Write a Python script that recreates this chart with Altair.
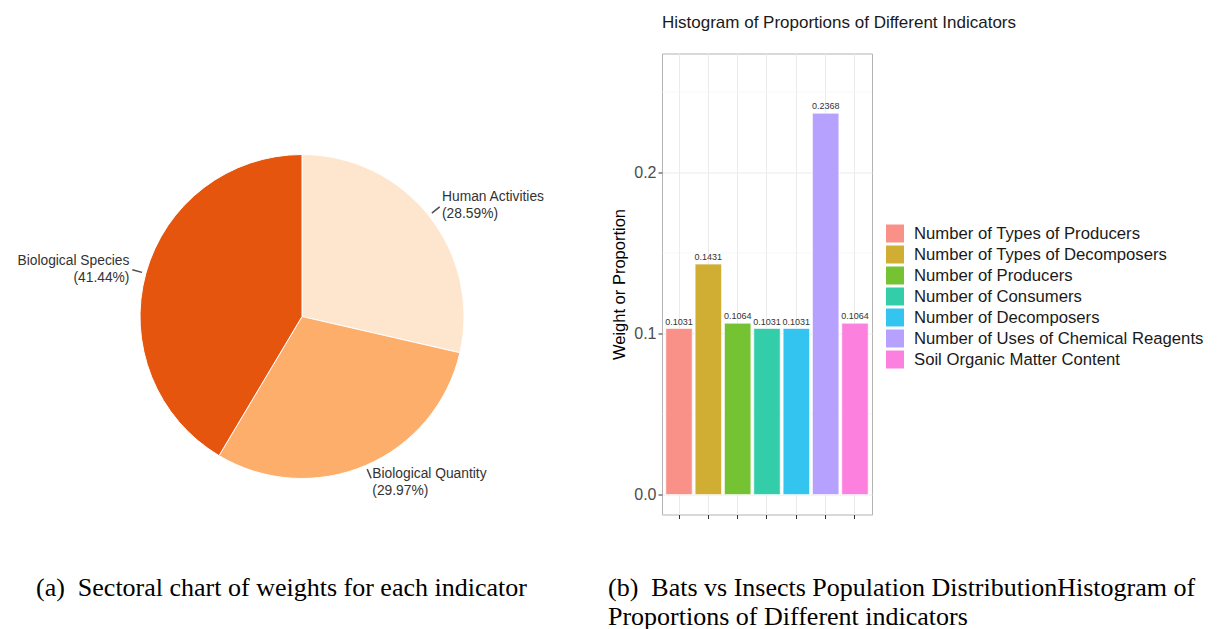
import math
import altair as alt
import pandas as pd

# ---------------- data ----------------
pie_labels = ["Human Activities", "Biological Quantity", "Biological Species"]
pie_values = [28.59, 29.97, 41.44]
pie_colors = ["#FEE6CE", "#FDAE6B", "#E6550D"]

bar_labels = [
    "Number of Types of Producers",
    "Number of Types of Decomposers",
    "Number of Producers",
    "Number of Consumers",
    "Number of Decomposers",
    "Number of Uses of Chemical Reagents",
    "Soil Organic Matter Content",
]
bar_values = [0.1031, 0.1431, 0.1064, 0.1031, 0.1031, 0.2368, 0.1064]
bar_colors = ["#F99189", "#D0AE33", "#75C333", "#33CDA9", "#33C5EF", "#B7A1FF", "#FC81DF"]

y_major = [0.0, 0.1, 0.2]
y_minor = [0.05, 0.15, 0.25]

title_text = "Histogram of Proportions of Different Indicators"
y_title = "Weight or Proportion"
caption_a = "(a)\u2002Sectoral chart of weights for each indicator"
caption_b = "(b)\u2002Bats vs Insects Population DistributionHistogram of\nProportions of Different indicators"

FONT = "Liberation Sans"
SERIF = "Liberation Serif"

# ---------------- pie ----------------
pie_df = pd.DataFrame({"label": pie_labels, "value": pie_values})
pie_df["end"] = pie_df["value"].cumsum()
pie_df["start"] = pie_df["end"] - pie_df["value"]
pie_df["mid"] = (pie_df["start"] + pie_df["end"]) / 2
pie_df["lo"] = pie_df["mid"] - 0.07
pie_df["hi"] = pie_df["mid"] + 0.07
pie_df["text"] = pie_df["label"] + "\n(" + pie_df["value"].map("{:.2f}%".format) + ")"
pie_df["side"] = ["right" if m < 50 else "left" for m in pie_df["mid"]]

TH = alt.Scale(domain=[0, 100], range=[0, 2 * math.pi])
CX, CY = alt.value(293), alt.value(263)

pie_base = alt.Chart(pie_df)
slices = pie_base.mark_arc(radius=162, stroke="white", strokeWidth=1).encode(
    theta=alt.Theta("start:Q", scale=TH, stack=None),
    theta2="end:Q",
    color=alt.Color("label:N", scale=alt.Scale(domain=pie_labels, range=pie_colors), legend=None),
    x=CX, y=CY,
)
leaders = pie_base.mark_arc(radius=176, radius2=166, color="#4d4d4d").encode(
    theta=alt.Theta("lo:Q", scale=TH, stack=None), theta2="hi:Q", x=CX, y=CY,
)
txt_common = dict(radius=179, baseline="middle", dy=-7.5, lineBreak="\n", lineHeight=17,
                  font=FONT, fontSize=13.8, color="#333333")
text_r = pie_base.transform_filter("datum.side == 'right'").mark_text(align="left", **txt_common).encode(
    theta=alt.Theta("mid:Q", scale=TH, stack=None), text="text:N", x=CX, y=CY,
)
text_l = pie_base.transform_filter("datum.side == 'left'").mark_text(align="right", **txt_common).encode(
    theta=alt.Theta("mid:Q", scale=TH, stack=None), text="text:N", x=CX, y=CY,
)
cap_a = alt.Chart(pd.DataFrame({"c": [caption_a]})).mark_text(
    align="left", baseline="alphabetic", font=SERIF, fontSize=26, color="black"
).encode(text="c:N", x=alt.value(27), y=alt.value(542))

pie_view = alt.layer(slices, leaders, text_r, text_l, cap_a).properties(
    width=560, height=461, view=alt.ViewBackground(stroke="transparent")
)

# ---------------- bars ----------------
bar_df = pd.DataFrame({"label": bar_labels, "value": bar_values})
base = alt.Chart(bar_df)
X = alt.X(
    "label:N", sort=bar_labels,
    scale=alt.Scale(domain=bar_labels, paddingInner=0.1, paddingOuter=0.13),
    axis=alt.Axis(title=None, labels=False, domain=False, ticks=True, tickSize=4,
                  tickColor="#333333", grid=True, gridColor="#ebebeb", gridWidth=1),
)
y_axis = alt.Axis(values=y_major, format=".1f", title=y_title, titleFont=FONT,
                  titleFontSize=16.5, titleFontWeight="normal", titleColor="black",
                  titlePadding=6, labelFont=FONT, labelFontSize=16, labelColor="#4d4d4d",
                  labelPadding=2, tickSize=4, tickColor="#333333", domain=False,
                  grid=True, gridColor="#ebebeb", gridWidth=1)
y_scale = alt.Scale(domain=[-0.0124, 0.2739], nice=False)
Y = alt.Y("value:Q", scale=y_scale, axis=y_axis)

minor = alt.Chart(pd.DataFrame({"v": y_minor})).mark_rule(color="#f1f1f1", strokeWidth=0.6).encode(
    y=alt.Y("v:Q", scale=y_scale, axis=y_axis)
)
bars = base.mark_bar(stroke="white", strokeWidth=0.6).encode(
    x=X, y=Y,
    color=alt.Color(
        "label:N", sort=bar_labels,
        scale=alt.Scale(domain=bar_labels, range=bar_colors),
        legend=alt.Legend(orient="none", legendX=224, legendY=171, title=None,
                          symbolType="square", symbolSize=324, symbolStrokeWidth=0,
                          symbolOpacity=1, labelFont=FONT, labelFontSize=16.7,
                          labelColor="#1a1a1a", labelOffset=10, rowPadding=3,
                          padding=0, labelLimit=400),
    ),
)
vals = base.mark_text(baseline="bottom", dy=-2, font=FONT, fontSize=9, color="#333333").encode(
    x=X, y=Y, text=alt.Text("value:Q", format=".4f"),
)
cap_b = alt.Chart(pd.DataFrame({"c": [caption_b]})).mark_text(
    align="left", baseline="alphabetic", font=SERIF, fontSize=26, lineBreak="\n",
    lineHeight=29, color="black"
).encode(text="c:N", x=alt.value(-54), y=alt.value(542))

bar_view = alt.layer(minor, bars, vals, cap_b).properties(
    width=210, height=461,
    title=alt.TitleParams(title_text, anchor="start", frame="group", font=FONT, fontSize=17,
                          fontWeight="normal", color="#1a1a1a", baseline="alphabetic",
                          offset=9),
    view=alt.ViewBackground(stroke="#b3b3b3", strokeWidth=1),
)

chart = alt.hconcat(pie_view, bar_view, spacing=93).resolve_scale(
    color="independent"
).properties(bounds="flush", padding={"left": 0, "top": 4.5, "right": 0, "bottom": 0})

chart.save("out.html", embed_options={"renderer": "svg", "actions": False})
